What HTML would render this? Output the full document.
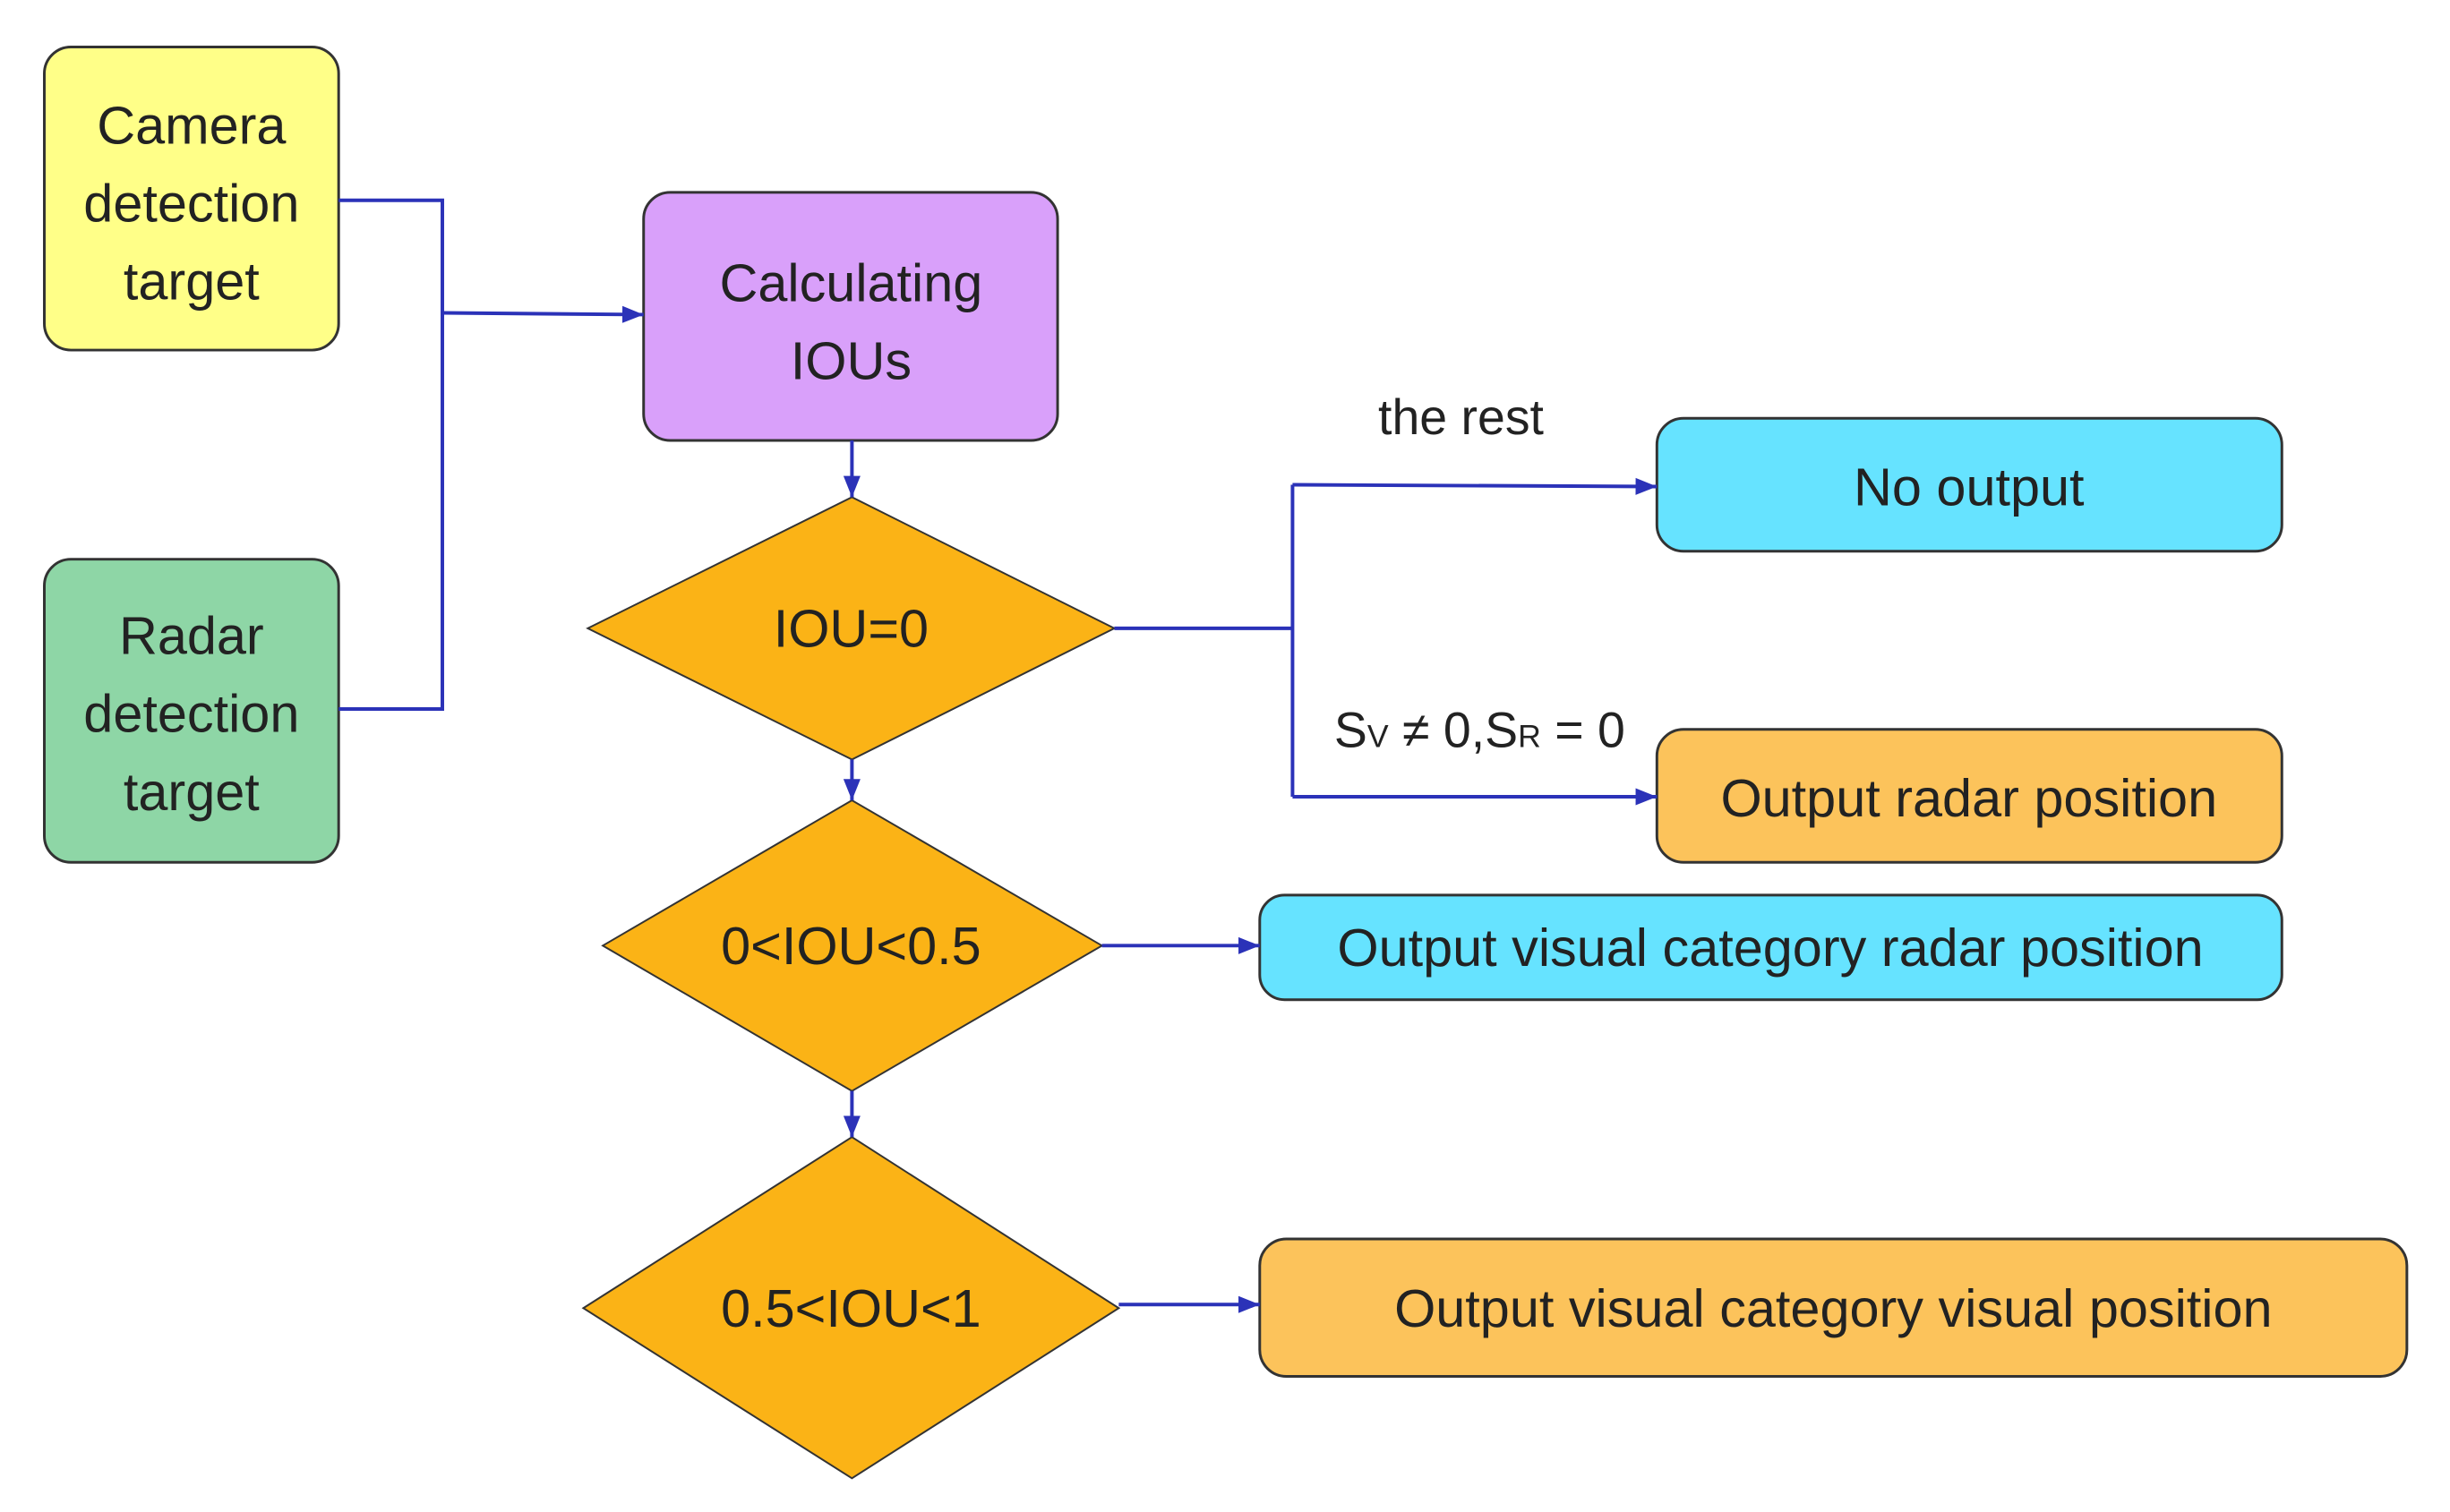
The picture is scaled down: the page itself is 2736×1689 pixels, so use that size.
<!DOCTYPE html>
<html><head><meta charset="utf-8"><style>
html,body{margin:0;padding:0;background:#fff;}
svg text{font-family:"Liberation Sans",sans-serif;fill:#222;}
</style></head><body>
<svg width="2736" height="1684" viewBox="0 0 2736 1684" xmlns="http://www.w3.org/2000/svg">
<defs>
<marker id="b" viewBox="0 0 10 10" refX="10" refY="5" markerWidth="24" markerHeight="24" orient="auto" markerUnits="userSpaceOnUse"><path d="M0,1L10,5L0,9z" fill="#2b32b8"/></marker></defs>
<g transform="scale(0.99)">
<g stroke="#333" stroke-width="3">
<rect x="50" y="53" width="332" height="342" rx="30" fill="#ffff88"/>
<rect x="50" y="631" width="332" height="342" rx="30" fill="#8ed6a6"/>
<rect x="726" y="217" width="467" height="280" rx="30" fill="#d9a0fa"/>
<polygon points="663,709 961,561 1257,709 961,857" fill="#fbb316" stroke-width="2"/>
<polygon points="680,1067 961,903 1243,1067 961,1231" fill="#fbb316" stroke-width="2"/>
<polygon points="658,1476 961,1283 1262,1476 961,1668" fill="#fbb316" stroke-width="2"/>
<rect x="1869" y="472" width="705" height="150" rx="30" fill="#66e3ff"/>
<rect x="1869" y="823" width="705" height="150" rx="30" fill="#fcc35b"/>
<rect x="1421" y="1010" width="1153" height="118" rx="28" fill="#66e3ff"/>
<rect x="1421" y="1398" width="1294" height="155" rx="30" fill="#fcc35b"/>
</g>
<g stroke="#2b32b8" stroke-width="4" fill="none">
<polyline points="382,226 499,226 499,800 382,800"/>
<line x1="499" y1="353" x2="726" y2="355" marker-end="url(#b)"/>
<line x1="961" y1="497" x2="961" y2="561" marker-end="url(#b)"/>
<line x1="961" y1="857" x2="961" y2="903" marker-end="url(#b)"/>
<line x1="961" y1="1231" x2="961" y2="1283" marker-end="url(#b)"/>
<polyline points="1257,709 1458,709"/>
<polyline points="1458,547 1458,899"/>
<line x1="1458" y1="547" x2="1869" y2="549" marker-end="url(#b)"/>
<line x1="1458" y1="899" x2="1869" y2="899" marker-end="url(#b)"/>
<line x1="1243" y1="1067" x2="1421" y2="1067" marker-end="url(#b)"/>
<line x1="1262" y1="1472" x2="1421" y2="1472" marker-end="url(#b)"/>
</g>
<g font-size="60" text-anchor="middle">
<text x="216" y="162">Camera</text><text x="216" y="250">detection</text><text x="216" y="338">target</text>
<text x="216" y="738">Radar</text><text x="216" y="826">detection</text><text x="216" y="914">target</text>
<text x="960" y="340">Calculating</text><text x="960" y="428">IOUs</text>
<text x="960" y="730">IOU=0</text>
<text x="960" y="1088">0&lt;IOU&lt;0.5</text>
<text x="960" y="1497">0.5&lt;IOU&lt;1</text>
<text x="2221" y="570">No output</text>
<text x="2221" y="921">Output radar position</text>
<text x="1997" y="1090">Output visual category radar position</text>
<text x="2068" y="1497">Output visual category visual position</text>
<text x="1648" y="490" font-size="56">the rest</text>
</g>
<text x="1505" y="843" font-size="56">S<tspan font-size="36">V</tspan> ≠ 0,S<tspan font-size="36">R</tspan> = 0</text>
</g>
</svg>
</body></html>
